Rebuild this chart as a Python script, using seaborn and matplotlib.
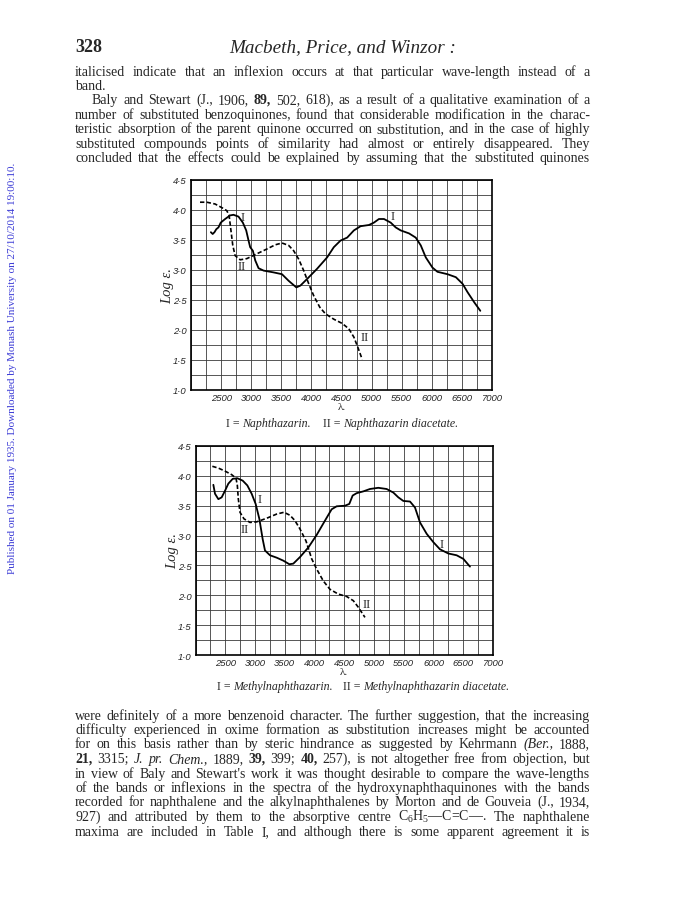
"""
Page 328 of Macbeth, Price and Winzor: absorption curves (log e vs wave-length)
of naphthazarin and methylnaphthazarin with their diacetates, set in the page text.
"""
import matplotlib
matplotlib.use("Agg")  # no display
import matplotlib.pyplot as plt
import numpy as np
import pandas as pd
import seaborn as sns

# ---- data -------------------------------------------------------------------
# upper chart: I = Naphthazarin, II = Naphthazarin diacetate
naph_wl = [2330, 2360, 2390, 2420, 2456, 2494, 2567, 2650, 2706, 2789, 2861, 2917,
           2956, 2983, 3028, 3067, 3122, 3206, 3372, 3511, 3622, 3750, 3817, 3928,
           4094, 4261, 4372, 4483, 4594, 4706, 4817, 4956, 5039, 5122, 5206, 5317,
           5400, 5483, 5622, 5733, 5817, 5900, 6011, 6094, 6261, 6400, 6511, 6594,
           6706, 6806]
naph_loge = [3.63, 3.60, 3.63, 3.68, 3.71, 3.79, 3.85, 3.91, 3.92, 3.89, 3.79, 3.66,
             3.49, 3.38, 3.32, 3.16, 3.03, 2.99, 2.96, 2.93, 2.82, 2.71, 2.74, 2.85,
             3.02, 3.21, 3.38, 3.49, 3.54, 3.66, 3.73, 3.75, 3.79, 3.85, 3.85, 3.79,
             3.71, 3.66, 3.61, 3.54, 3.41, 3.21, 3.04, 2.97, 2.93, 2.88, 2.77, 2.63,
             2.46, 2.32]
naph_ac_wl = [2150, 2261, 2400, 2511, 2594, 2633, 2661, 2694, 2733, 2817, 2928, 3094,
              3261, 3400, 3511, 3622, 3706, 3789, 3872, 3956, 4039, 4139, 4233, 4372,
              4511, 4622, 4706, 4772, 4844]
naph_ac_loge = [4.13, 4.13, 4.10, 4.04, 3.99, 3.91, 3.68, 3.41, 3.24, 3.17, 3.19, 3.27,
                3.35, 3.42, 3.45, 3.41, 3.32, 3.18, 2.99, 2.77, 2.57, 2.38, 2.27, 2.18,
                2.11, 2.02, 1.88, 1.71, 1.51]

# lower chart: I = Methylnaphthazarin, II = Methylnaphthazarin diacetate
meth_wl = [2300, 2328, 2384, 2440, 2496, 2552, 2625, 2703, 2793, 2871, 2944, 3011,
           3073, 3129, 3168, 3252, 3364, 3476, 3577, 3644, 3756, 3896, 4036, 4176,
           4288, 4372, 4513, 4585, 4641, 4708, 4820, 4932, 5072, 5212, 5325, 5409,
           5493, 5605, 5689, 5773, 5885, 5997, 6109, 6249, 6389, 6501, 6613]
meth_loge = [3.85, 3.70, 3.61, 3.64, 3.75, 3.87, 3.95, 3.96, 3.92, 3.84, 3.70, 3.53,
             3.28, 2.94, 2.75, 2.67, 2.63, 2.58, 2.52, 2.53, 2.64, 2.80, 3.01, 3.25,
             3.44, 3.49, 3.50, 3.53, 3.67, 3.71, 3.74, 3.78, 3.80, 3.78, 3.72, 3.64,
             3.58, 3.57, 3.47, 3.22, 3.03, 2.89, 2.77, 2.70, 2.67, 2.61, 2.48]
meth_ac_wl = [2283, 2384, 2496, 2608, 2681, 2703, 2720, 2748, 2815, 2916, 3028, 3196,
              3364, 3487, 3588, 3672, 3756, 3857, 3953, 4036, 4148, 4260, 4400, 4540,
              4652, 4736, 4848]
meth_ac_loge = [4.16, 4.13, 4.08, 4.02, 3.96, 3.84, 3.61, 3.39, 3.28, 3.22, 3.23, 3.29,
                3.36, 3.39, 3.34, 3.25, 3.11, 2.91, 2.61, 2.44, 2.24, 2.10, 2.02, 1.98,
                1.91, 1.80, 1.63]

x_ticks = [2500, 3000, 3500, 4000, 4500, 5000, 5500, 6000, 6500, 7000]
y_ticks = [1.0, 1.5, 2.0, 2.5, 3.0, 3.5, 4.0, 4.5]

# curve labels: (text, wave-length, log e)
naph_marks = [("I", 2861, 3.88), ("I", 5356, 3.90), ("II", 2844, 3.07), ("II", 4883, 1.88)]
meth_marks = [("I", 3084, 3.61), ("I", 6137, 2.86), ("II", 2832, 3.11), ("II", 4876, 1.85)]

top_lines = [
    "italicised indicate that an inflexion occurs at that particular wave-length instead of a",
    "band.",
    "Baly and Stewart (J., 1906, *89, 502, 618), as a result of a qualitative examination of a",
    "number of substituted benzoquinones, found that considerable modification in the charac-",
    "teristic absorption of the parent quinone occurred on substitution, and in the case of highly",
    "substituted compounds points of similarity had almost or entirely disappeared.  They",
    "concluded that the effects could be explained by assuming that the substituted quinones",
]
bottom_lines = [
    "were definitely of a more benzenoid character.  The further suggestion, that the increasing",
    "difficulty experienced in oxime formation as substitution increases might be accounted",
    "for on this basis rather than by steric hindrance as suggested by Kehrmann _(Ber., 1888,",
    "*21, 3315; _J. _pr. _Chem., 1889, *39, 399; *40, 257), is not altogether free from objection, but",
    "in view of Baly and Stewart's work it was thought desirable to compare the wave-lengths",
    "of the bands or inflexions in the spectra of the hydroxynaphthaquinones with the bands",
    "recorded for naphthalene and the alkylnaphthalenes by Morton and de Gouveia (J., 1934,",
    "927) and attributed by them to the absorptive centre C$_6$H$_5$—C=C—.  The naphthalene",
    "maxima are included in Table I, and although there is some apparent agreement it is",
]

W, H = 673, 912
SERIF = "Liberation Serif"
BODY = 10.0

sns.set_style("white")
plt.rcParams["font.family"] = [SERIF, "DejaVu Serif"]
plt.rcParams["mathtext.fontset"] = "custom"
plt.rcParams["mathtext.rm"] = SERIF
plt.rcParams["mathtext.it"] = SERIF + ":italic"


def fx(x):
    return x / W


def fy(y):
    return 1 - y / H


def put_words(fig, r, line, x0, x1, y, justify=True):
    """Place one line word by word; '*' = bold, '_' = italic. Justify to x0..x1."""
    base = round(y + 3.5)  # whole-pixel baseline keeps words level
    items = []
    for w in line.split():
        weight, style = "normal", "normal"
        if w.startswith("*"):
            weight, w = "bold", w[1:]
        elif w.startswith("_"):
            style, w = "italic", w[1:]
        items.append(fig.text(0, fy(base), w, fontsize=BODY, weight=weight,
                              style=style, va="baseline", ha="left", family=SERIF))
    widths = [t.get_window_extent(r).width for t in items]
    if justify and len(items) > 1:
        gap = (x1 - x0 - sum(widths)) / (len(items) - 1)
    else:
        gap = BODY * 0.25 * 100 / 72
    x = x0
    for t, wd in zip(items, widths):
        t.set_x(fx(x))
        x += wd + gap


def put_caption(fig, r, segs, xc, y, size=8.6):
    items = []
    for text, style, gap in segs:
        items.append((fig.text(0, fy(round(y + 3)), text, fontsize=size, style=style,
                               va="baseline", ha="left", family=SERIF), gap))
    widths = [t.get_window_extent(r).width for t, _ in items]
    total = sum(widths) + sum(g for _, g in items)
    x = xc - total / 2
    for (t, g), wd in zip(items, widths):
        t.set_x(fx(x))
        x += wd + g


def draw_chart(ax, wl1, le1, wl2, le2, marks):
    sns.lineplot(x=wl1, y=le1, ax=ax, color="black", lw=1.3, sort=False, estimator=None)
    sns.lineplot(x=wl2, y=le2, ax=ax, color="black", lw=1.2, sort=False, estimator=None,
                 linestyle=(0, (2.6, 1.4)))
    ax.set_xlim(2000, 7000)
    ax.set_ylim(1.0, 4.5)
    ax.set_xticks(x_ticks)
    ax.set_xticks(np.arange(2000, 7001, 250), minor=True)
    ax.set_yticks(y_ticks)
    ax.set_yticks(np.arange(1.0, 4.51, 0.25), minor=True)
    ax.set_xticklabels([str(v) for v in x_ticks], style="italic", family="Liberation Sans",
                       fontsize=6.8)
    ax.set_yticklabels([f"{v:.1f}".replace(".", "·") for v in y_ticks], style="italic",
                       family="Liberation Sans", fontsize=6.8)
    ax.tick_params(which="both", length=0)
    ax.tick_params(axis="x", pad=2)
    ax.tick_params(axis="y", pad=3)
    ax.grid(True, which="both", color="#3a3a3a", lw=0.6)
    for s in ax.spines.values():
        s.set_visible(True)
        s.set_color("black")
        s.set_linewidth(1.2)
    ax.set_xlabel("λ.", fontsize=8, labelpad=0, family=SERIF)
    ax.set_ylabel("Log ε.", fontsize=10.5, style="italic", family=SERIF, labelpad=-1)
    for text, x, y in marks:
        ax.text(x, y, text, fontsize=9, ha="center", va="center", family=SERIF)


fig = plt.figure(figsize=(W / 100, H / 100), dpi=100)
fig.patch.set_facecolor("white")
r = fig.canvas.get_renderer()

ax1 = fig.add_axes([fx(191), fy(391), fx(492) - fx(191), fy(181) - fy(391)])
draw_chart(ax1, naph_wl, naph_loge, naph_ac_wl, naph_ac_loge, naph_marks)
ax2 = fig.add_axes([fx(195.5), fy(656), fx(493) - fx(195.5), fy(447) - fy(656)])
draw_chart(ax2, meth_wl, meth_loge, meth_ac_wl, meth_ac_loge, meth_marks)

put_caption(fig, r, [("I = ", "normal", 0), ("Naphthazarin.", "italic", 12),
                     ("II = ", "normal", 0), ("Naphthazarin diacetate.", "italic", 0)], 342, 424)
put_caption(fig, r, [("I = ", "normal", 0), ("Methylnaphthazarin.", "italic", 10),
                     ("II = ", "normal", 0), ("Methylnaphthazarin diacetate.", "italic", 0)], 363, 687)

# running head
fig.text(fx(75), fy(52), "328", fontsize=13, weight="bold", va="baseline", family=SERIF)
fig.text(fx(343), fy(52), "Macbeth, Price, and Winzor :", fontsize=13.8, style="italic",
         ha="center", va="baseline", family=SERIF)

for i, line in enumerate(top_lines):
    x0 = 92 if line.startswith("Baly") else 75
    put_words(fig, r, line, x0, 590, 72 + i * 14.4, justify=(line != "band."))
for i, line in enumerate(bottom_lines):
    put_words(fig, r, line, 75, 590, 716 + i * 14.5)

fig.text(fx(13), fy(368),
         "Published on 01 January 1935. Downloaded by Monash University on 27/10/2014 19:00:10.",
         rotation=90, fontsize=8.0, color="#3c3cd6", ha="center", va="center", family=SERIF)

fig.savefig("out.png", dpi=100)
plt.close(fig)
